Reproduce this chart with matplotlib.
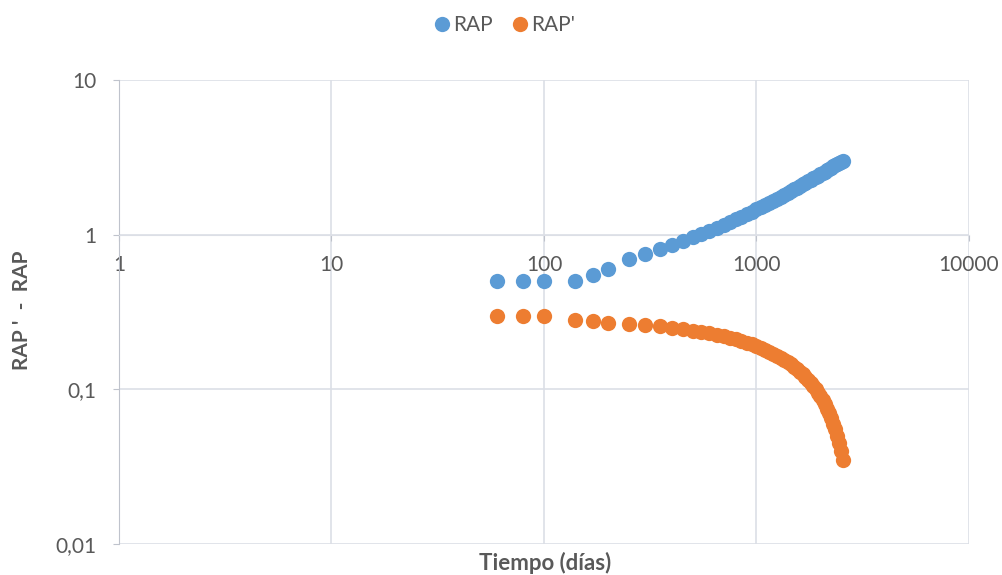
import matplotlib
matplotlib.use("Agg")
import matplotlib.pyplot as plt
from matplotlib.ticker import FixedLocator, FuncFormatter, NullLocator

plt.rcParams['font.family'] = ['Lato', 'DejaVu Sans']

# tiempo en dias
dias = [60, 80, 100, 140, 170, 200, 250, 300, 350, 400,
        450, 500, 550, 600, 650, 700, 750, 800, 850, 900, 950, 1000,
        1050, 1100, 1150, 1200, 1250, 1300, 1350, 1400, 1450, 1500,
        1550, 1600, 1650, 1700, 1750, 1800, 1850, 1900, 1950, 2000,
        2050, 2100, 2150, 2200, 2250, 2300, 2350, 2400, 2450, 2500, 2550]

rap = [0.50, 0.50, 0.50, 0.50, 0.55, 0.60, 0.70, 0.75, 0.81, 0.86,
       0.91, 0.96, 1.01, 1.06, 1.11, 1.16, 1.21, 1.26, 1.31, 1.36, 1.41, 1.46,
       1.51, 1.56, 1.61, 1.66, 1.71, 1.76, 1.81, 1.86, 1.91, 1.96,
       2.01, 2.06, 2.11, 2.16, 2.21, 2.26, 2.31, 2.36, 2.41, 2.46,
       2.51, 2.56, 2.61, 2.66, 2.71, 2.76, 2.81, 2.86, 2.91, 2.96, 3.01]

rap_prima = [0.30, 0.30, 0.30, 0.28, 0.275, 0.27, 0.265, 0.26, 0.255, 0.25,
             0.245, 0.24, 0.235, 0.23, 0.225, 0.22, 0.215, 0.21, 0.205, 0.20, 0.195, 0.19,
             0.185, 0.18, 0.175, 0.17, 0.165, 0.16, 0.155, 0.15, 0.145, 0.14,
             0.135, 0.13, 0.125, 0.12, 0.115, 0.11, 0.105, 0.10, 0.095, 0.09,
             0.085, 0.08, 0.075, 0.07, 0.065, 0.06, 0.055, 0.05, 0.045, 0.04, 0.035]

xticks = [1, 10, 100, 1000, 10000]
yticks = [0.01, 0.1, 1, 10]
ytick_labels = {0.01: '0,01', 0.1: '0,1', 1: '1', 10: '10'}

gris = '#595959'
linea = '#dcdfe6'

fig = plt.figure(figsize=(10.03, 5.75), dpi=100)
ax = fig.add_axes([0.1186, 0.0539, 0.8475, 0.807])

ax.plot(dias, rap, 'o', color='#5b9bd5', markersize=11, markeredgewidth=0, label='RAP', zorder=3)
ax.plot(dias, rap_prima, 'o', color='#ed7d31', markersize=11, markeredgewidth=0, label="RAP'", zorder=3)

ax.set_xscale('log')
ax.set_yscale('log')
ax.set_xlim(1, 10000)
ax.set_ylim(0.01, 10)

ax.xaxis.set_major_locator(FixedLocator(xticks))
ax.yaxis.set_major_locator(FixedLocator(yticks))
ax.xaxis.set_minor_locator(NullLocator())
ax.yaxis.set_minor_locator(NullLocator())
ax.xaxis.set_major_formatter(FuncFormatter(lambda v, p: '%d' % round(v)))
ax.yaxis.set_major_formatter(FuncFormatter(lambda v, p: ytick_labels.get(round(v, 4), '')))

ax.grid(True, color=linea, linewidth=1.2)
ax.set_axisbelow(True)

# eje x cruza en y = 1
ax.spines['bottom'].set_position(('data', 1))
ax.spines['bottom'].set_color(linea)
ax.spines['left'].set_color('#bfc3cc')
ax.spines['top'].set_visible(False)
ax.spines['right'].set_visible(False)

ax.tick_params(axis='x', colors=gris, labelsize=15, length=4, pad=11, direction='out')
ax.tick_params(axis='y', colors=gris, labelsize=15, length=4, pad=12, direction='out')
ax.tick_params(axis='both', color='#bfc3cc')

fig.text(0.5433, 1 - 563 / 575, 'Tiempo (días)', ha='center', va='center',
         fontsize=16, fontweight='bold', color=gris)
fig.text(22 / 1003, 1 - 310 / 575, "RAP '  -  RAP", ha='center', va='center',
         rotation=90, fontsize=15, fontweight='bold', color=gris)

fig.legend(loc='center', bbox_to_anchor=(0.502, 1 - 25 / 575), ncol=2, frameon=False,
           fontsize=15, labelcolor=gris, handletextpad=0.05, columnspacing=0.8,
           handlelength=1.0, markerscale=1.0)

fig.savefig('out.png', dpi=100)
